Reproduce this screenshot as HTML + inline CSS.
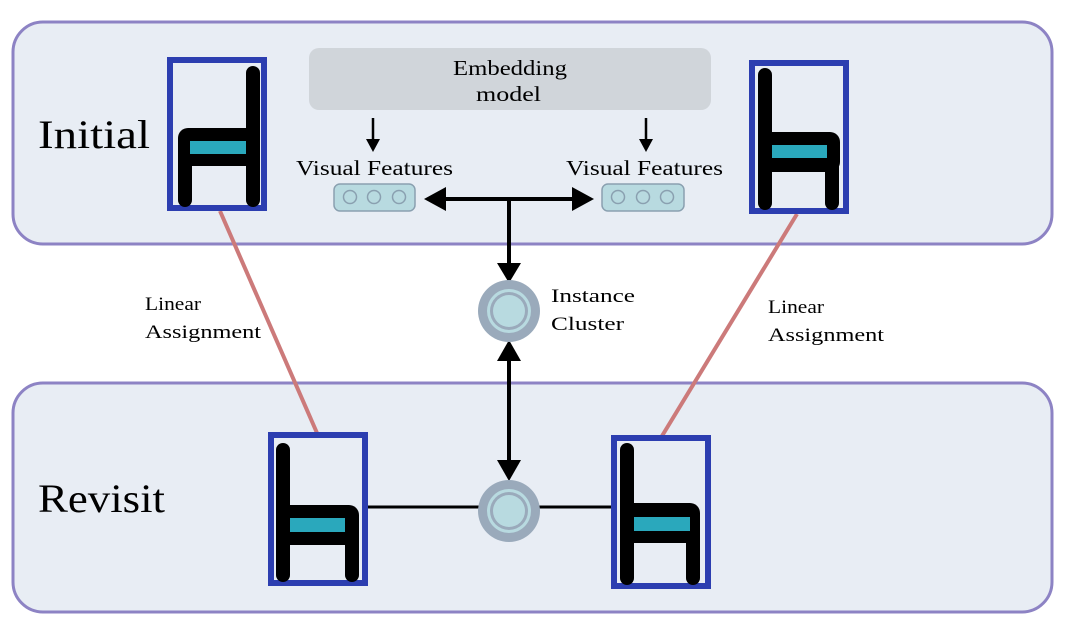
<!DOCTYPE html>
<html><head><meta charset="utf-8"><style>
html,body{margin:0;padding:0;background:#fff;}
svg{display:block;font-family:"Liberation Serif",serif;}
</style></head><body>
<svg width="1074" height="641" viewBox="0 0 1074 641" xmlns="http://www.w3.org/2000/svg">
<rect x="13" y="22" width="1039" height="222" rx="30" fill="#e8edf4" stroke="#8d83c4" stroke-width="3"/>
<rect x="13" y="383" width="1039" height="229" rx="30" fill="#e8edf4" stroke="#8d83c4" stroke-width="3"/>
<text x="38" y="148" font-size="40" textLength="112" lengthAdjust="spacingAndGlyphs">Initial</text>
<text x="38" y="512" font-size="40" textLength="127" lengthAdjust="spacingAndGlyphs">Revisit</text>
<line x1="220" y1="211" x2="317" y2="433" stroke="#cc7a7a" stroke-width="4"/>
<line x1="797" y1="214" x2="662" y2="436" stroke="#cc7a7a" stroke-width="4"/>
<text x="145" y="310" font-size="19" textLength="56" lengthAdjust="spacingAndGlyphs">Linear</text>
<text x="145" y="338" font-size="19" textLength="116" lengthAdjust="spacingAndGlyphs">Assignment</text>
<text x="768" y="313" font-size="19" textLength="56" lengthAdjust="spacingAndGlyphs">Linear</text>
<text x="768" y="341" font-size="19" textLength="116" lengthAdjust="spacingAndGlyphs">Assignment</text>
<rect x="309" y="48" width="402" height="62" rx="10" fill="#d0d5da"/>
<text x="453" y="75" font-size="21" textLength="114" lengthAdjust="spacingAndGlyphs">Embedding</text>
<text x="476" y="101" font-size="21" textLength="65" lengthAdjust="spacingAndGlyphs">model</text>
<line x1="373" y1="118" x2="373" y2="140" stroke="#000" stroke-width="2.5"/>
<polygon points="366,139 380,139 373,152" fill="#000"/>
<line x1="646" y1="118" x2="646" y2="140" stroke="#000" stroke-width="2.5"/>
<polygon points="639,139 653,139 646,152" fill="#000"/>
<text x="296" y="175" font-size="21" textLength="157" lengthAdjust="spacingAndGlyphs">Visual Features</text>
<text x="566" y="175" font-size="21" textLength="157" lengthAdjust="spacingAndGlyphs">Visual Features</text>
<g stroke="#8aa0b0" stroke-width="1.5" fill="#b8dae0">
<rect x="334" y="184" width="81" height="27" rx="6"/>
<rect x="602" y="184" width="82" height="27" rx="6"/>
<circle cx="350" cy="197" r="6.5" fill="none"/><circle cx="374" cy="197" r="6.5" fill="none"/><circle cx="399" cy="197" r="6.5" fill="none"/>
<circle cx="618" cy="197" r="6.5" fill="none"/><circle cx="643" cy="197" r="6.5" fill="none"/><circle cx="667" cy="197" r="6.5" fill="none"/>
</g>
<line x1="440" y1="199" x2="575" y2="199" stroke="#000" stroke-width="4"/>
<polygon points="424,199 446,187 446,211" fill="#000"/>
<polygon points="594,199 572,187 572,211" fill="#000"/>
<line x1="509" y1="199" x2="509" y2="268" stroke="#000" stroke-width="4"/>
<polygon points="497,263 521,263 509,283" fill="#000"/>
<line x1="509" y1="355" x2="509" y2="466" stroke="#000" stroke-width="4"/>
<polygon points="497,361 521,361 509,340" fill="#000"/>
<polygon points="497,460 521,460 509,481" fill="#000"/>
<line x1="368" y1="507" x2="611" y2="507" stroke="#000" stroke-width="3"/>
<circle cx="509" cy="311" r="31" fill="#9aaabb"/><circle cx="509" cy="311" r="22" fill="#b8dae0"/><circle cx="509" cy="311" r="19" fill="#9aaabb"/><circle cx="509" cy="311" r="16" fill="#b8dae0"/>
<circle cx="509" cy="511" r="31" fill="#9aaabb"/><circle cx="509" cy="511" r="22" fill="#b8dae0"/><circle cx="509" cy="511" r="19" fill="#9aaabb"/><circle cx="509" cy="511" r="16" fill="#b8dae0"/>
<text x="551" y="302" font-size="19" textLength="84" lengthAdjust="spacingAndGlyphs">Instance</text>
<text x="551" y="330" font-size="19" textLength="73" lengthAdjust="spacingAndGlyphs">Cluster</text>
<g stroke="#2c3eb0" stroke-width="6" fill="none">
<rect x="170" y="60" width="94" height="148"/>
<rect x="752" y="63" width="94" height="148"/>
<rect x="271" y="435" width="94" height="148"/>
<rect x="614" y="438" width="94" height="148"/>
</g>
<g stroke="#000" stroke-width="14" stroke-linecap="round" fill="none">
<line x1="253" y1="73" x2="253" y2="200"/><line x1="185" y1="150" x2="185" y2="200"/>
<line x1="765" y1="75" x2="765" y2="203"/><line x1="832" y1="150" x2="832" y2="203"/>
<line x1="283" y1="450" x2="283" y2="575"/><line x1="352" y1="520" x2="352" y2="575"/>
<line x1="627" y1="450" x2="627" y2="578"/><line x1="693" y1="520" x2="693" y2="578"/>
</g>
<g fill="#000">
<rect x="178" y="128" width="82" height="38" rx="10"/>
<rect x="758" y="132" width="82" height="40" rx="10"/>
<rect x="276" y="505" width="83" height="40" rx="10"/>
<rect x="620" y="503" width="80" height="40" rx="10"/>
</g>
<g fill="#2aa8bc">
<rect x="190" y="141" width="56" height="13"/>
<rect x="772" y="145" width="55" height="13"/>
<rect x="290" y="518" width="55" height="14"/>
<rect x="634" y="517" width="56" height="14"/>
</g>
</svg>
</body></html>
